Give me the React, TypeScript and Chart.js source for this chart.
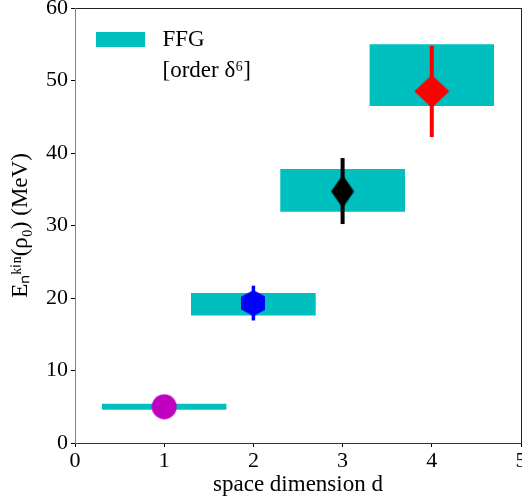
import React, { useEffect, useRef } from "react";
import { Chart, registerables } from "chart.js";

Chart.register(...registerables);

// ---- data ----
const dims = [1, 2, 3, 4];
const pointValues = [5.0, 19.3, 34.7, 48.5];
const errLow = [null, 16.9, 30.2, 42.2];
const errHigh = [null, 21.7, 39.3, 54.8];
const bandHalfWidth = [0.7, 0.7, 0.7, 0.7];
const bandLow = [4.6, 17.6, 31.9, 46.5];
const bandHigh = [5.4, 20.7, 37.8, 55.0];
const markerColors = ["#bf00bf", "#0000ff", "#000000", "#ff0000"];
const xTicks = [0, 1, 2, 3, 4, 5];
const yTicks = [0, 10, 20, 30, 40, 50, 60];
const legendLabels = ["FFG", "[order δ⁶]"];

const CYAN = "#00bfbf";
const FONT = "'Liberation Serif', 'Times New Roman', serif";

function makeCanvas(w: number, h: number, draw: (c: CanvasRenderingContext2D) => void) {
  const cv = document.createElement("canvas");
  cv.width = w;
  cv.height = h;
  const c = cv.getContext("2d")!;
  draw(c);
  return cv;
}

function makeMarkers() {
  const circle = makeCanvas(26, 26, (c) => {
    c.fillStyle = markerColors[0];
    c.beginPath();
    c.arc(13, 13, 12.5, 0, Math.PI * 2);
    c.fill();
  });
  const hex = makeCanvas(24, 26, (c) => {
    c.fillStyle = markerColors[1];
    c.beginPath();
    c.moveTo(12, 0);
    c.lineTo(24, 6.5);
    c.lineTo(24, 19.5);
    c.lineTo(12, 26);
    c.lineTo(0, 19.5);
    c.lineTo(0, 6.5);
    c.closePath();
    c.fill();
  });
  const thin = makeCanvas(24, 34, (c) => {
    c.fillStyle = markerColors[2];
    c.beginPath();
    c.moveTo(12, 0.5);
    c.lineTo(23.5, 17);
    c.lineTo(12, 33.5);
    c.lineTo(0.5, 17);
    c.closePath();
    c.fill();
  });
  const diamond = makeCanvas(36, 34, (c) => {
    c.fillStyle = markerColors[3];
    c.beginPath();
    c.moveTo(18, 0.5);
    c.lineTo(35.5, 17);
    c.lineTo(18, 33.5);
    c.lineTo(0.5, 17);
    c.closePath();
    c.fill();
  });
  return [circle, hex, thin, diamond];
}

export default function App() {
  const ref = useRef<HTMLCanvasElement>(null);

  useEffect(() => {
    const markers = makeMarkers();
    const legendBox = makeCanvas(68, 15, (c) => {
      c.fillStyle = CYAN;
      c.fillRect(13, 0, 49, 15);
    });
    const legendBlank = makeCanvas(68, 15, () => {});

    const markerSets = dims.map((d, i) => ({
      type: "scatter" as const,
      data: [{ x: d, y: pointValues[i] }],
      pointStyle: markers[i],
      pointRadius: 12,
      backgroundColor: markerColors[i],
      borderWidth: 0,
    }));

    const errSets = dims
      .map((d, i) => ({ d, i }))
      .filter(({ i }) => errLow[i] !== null)
      .map(({ d, i }) => ({
        type: "line" as const,
        data: [
          { x: d, y: errLow[i] as number },
          { x: d, y: errHigh[i] as number },
        ],
        borderColor: markerColors[i],
        borderWidth: i === 1 ? 3.5 : 4,
        pointRadius: 0,
        fill: false,
      }));

    const bandSets = dims.map((d, i) => ({
      type: "line" as const,
      data: [
        { x: d - bandHalfWidth[i], y: bandHigh[i] },
        { x: d + bandHalfWidth[i], y: bandHigh[i] },
      ],
      borderWidth: 0,
      borderColor: CYAN,
      backgroundColor: CYAN,
      pointRadius: 0,
      fill: { value: bandLow[i] },
    }));

    const chart = new Chart(ref.current!, {
      type: "scatter",
      data: { datasets: [...markerSets, ...errSets, ...bandSets] as any },
      options: {
        animation: false,
        responsive: false,
        events: [],
        layout: { autoPadding: false, padding: { top: 8, right: 1, bottom: 0, left: 0 } },
        plugins: {
          tooltip: { enabled: false },
          legend: {
            position: "chartArea",
            align: "start",
            title: { display: true, text: "", font: { size: 10, lineHeight: 1 }, padding: { top: 10, bottom: 0 } },
            labels: {
              usePointStyle: true,
              pointStyleWidth: 68,
              padding: 8,
              color: "#000",
              font: { family: FONT, size: 23 },
              generateLabels: () => [
                {
                  text: legendLabels[0],
                  pointStyle: legendBox,
                  fillStyle: CYAN,
                  strokeStyle: "transparent",
                  fontColor: "#000",
                  lineWidth: 0,
                  hidden: false,
                },
                {
                  text: legendLabels[1],
                  pointStyle: legendBlank,
                  fillStyle: "transparent",
                  strokeStyle: "transparent",
                  fontColor: "#000",
                  lineWidth: 0,
                  hidden: false,
                },
              ] as any,
            },
          },
        },
        scales: {
          x: {
            type: "linear",
            position: "bottom",
            min: 0,
            max: 5,
            afterBuildTicks: (s: any) => {
              s.ticks = xTicks.map((v) => ({ value: v }));
            },
            afterFit: (s: any) => {
              s.height = 57;
              s.paddingLeft = 0;
              s.paddingRight = 0;
            },
            ticks: { color: "#000", font: { family: FONT, size: 22 }, padding: 1, maxRotation: 0 },
            grid: { drawOnChartArea: false, tickLength: 4, color: "#000" },
            border: { color: "#333", dash: [4, 2], width: 1 },
            title: {
              display: true,
              text: "space dimension d",
              color: "#000",
              font: { family: FONT, size: 23 },
              padding: { top: 0, bottom: 1 },
            },
          },
          x2: {
            type: "linear",
            position: "top",
            min: 0,
            max: 5,
            afterFit: (s: any) => {
              s.height = 0;
              s.paddingLeft = 0;
              s.paddingRight = 0;
            },
            ticks: { display: false },
            grid: { display: false, drawTicks: false },
            border: { color: "#222", width: 1 },
          },
          y: {
            type: "linear",
            position: "left",
            min: 0,
            max: 60,
            afterBuildTicks: (s: any) => {
              s.ticks = yTicks.map((v) => ({ value: v }));
            },
            afterFit: (s: any) => {
              s.width = 75;
              s.paddingTop = 0;
              s.paddingBottom = 0;
            },
            ticks: { color: "#000", font: { family: FONT, size: 22 }, padding: 3 },
            grid: { drawOnChartArea: false, tickLength: 4, color: "#000" },
            border: { color: "#808080", width: 1 },
            title: {
              display: true,
              text: "Eₙᵏⁱⁿ(ρ₀) (MeV)",
              color: "#000",
              font: { family: FONT, size: 23 },
              padding: { top: 7, bottom: 0 },
            },
          },
          y2: {
            type: "linear",
            position: "right",
            min: 0,
            max: 60,
            afterFit: (s: any) => {
              s.width = 0;
              s.paddingTop = 0;
              s.paddingBottom = 0;
            },
            ticks: { display: false },
            grid: { display: false, drawTicks: false },
            border: { color: "#222", width: 1 },
          },
        },
      },
    });
    return () => chart.destroy();
  }, []);

  return (
    <div style={{ position: "fixed", left: 0, top: 0, width: 522, height: 500, background: "#fff" }}>
      <canvas ref={ref} width={522} height={500} style={{ display: "block" }} />
    </div>
  );
}
